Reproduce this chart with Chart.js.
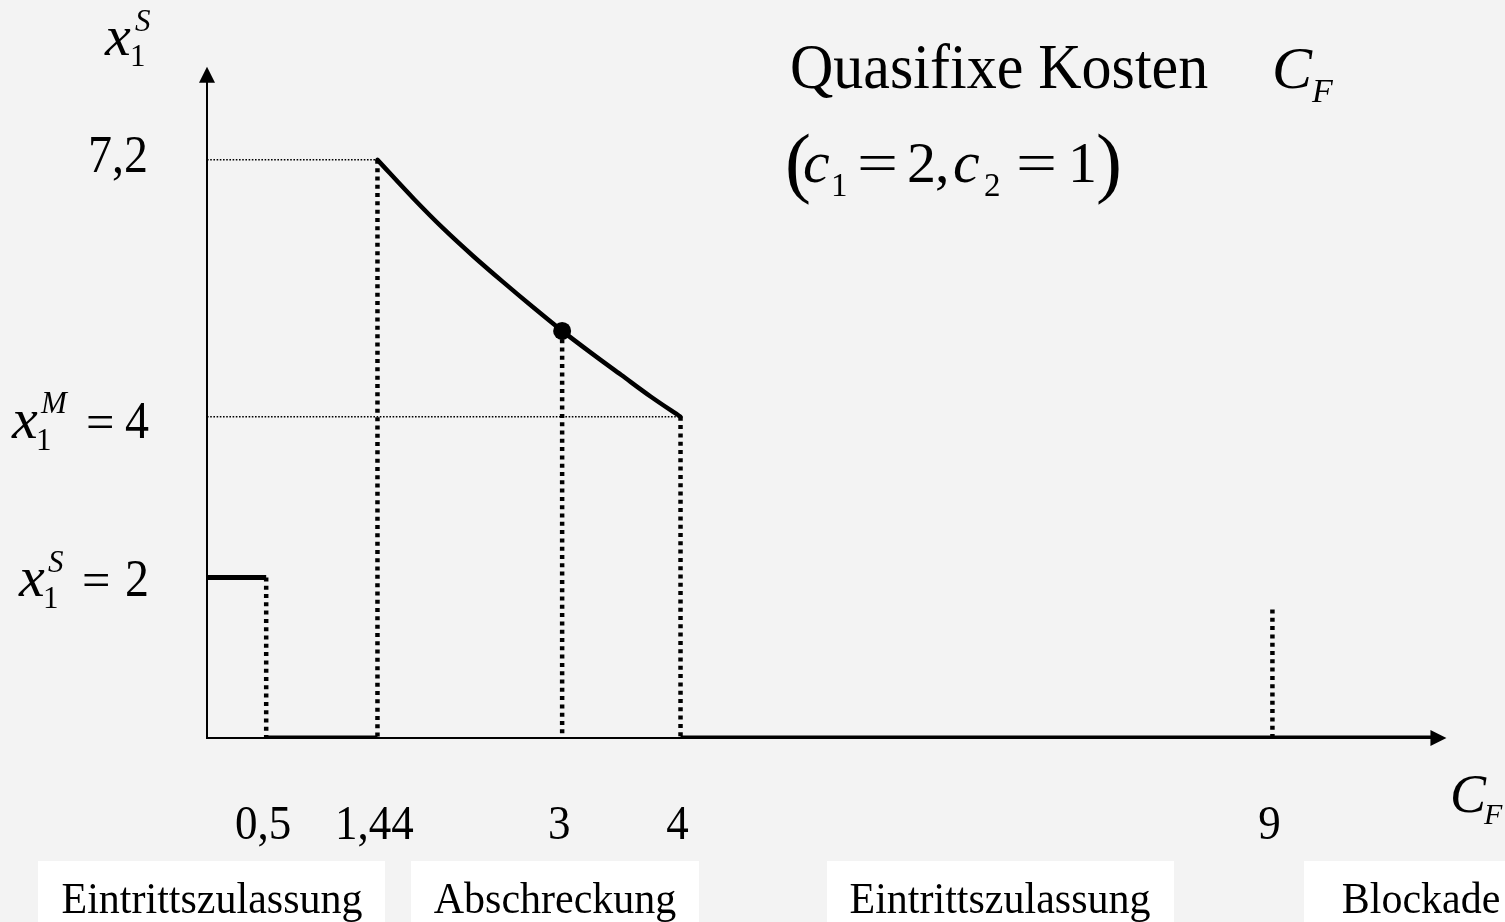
<!DOCTYPE html>
<html>
<head>
<meta charset="utf-8">
<script src="https://cdn.jsdelivr.net/npm/chart.js@4.4.1/dist/chart.umd.min.js"></script>
<style>
  html, body { margin: 0; padding: 0; background: #f3f3f3; }
  #wrap { width: 1505px; height: 922px; }
</style>
</head>
<body>
<div id="wrap"><canvas id="grafica" width="1505" height="922"></canvas></div>
<script>
// Quasifixe Kosten C_F gegen x1^S (c1 = 2, c2 = 1)

// Kurve im Abschreckungsbereich
var cfCurve = [1.44, 1.75, 2, 2.25, 2.5, 2.75, 3, 3.25, 3.5, 3.75, 4];
var x1Curve = [7.2, 6.71, 6.34, 6.0, 5.68, 5.37, 5.07, 4.79, 4.52, 4.25, 4.0];

// Stackelberg-Menge bis C_F = 0,5
var stackCF = [0, 0.5];
var stackX1 = [2, 2];

// Abschnitte mit x1 = 0 (fett auf der Achse)
var zeroFrom = [0.5, 4];
var zeroTo = [1.44, 10.35];

// gepunktete Senkrechte
var dropCF = [0.5, 1.44, 3, 4, 9];
var dropX1 = [2, 7.2, 5.07, 4, 1.6];

// gepunktete Waagerechte zur y-Achse
var guideX1 = [7.2, 4];
var guideCF = [1.44, 4];

// markierter Punkt
var pointCF = [3];
var pointX1 = [5.07];

var xTickValues = [0.5, 1.44, 3, 4, 9];
var xTickLabels = ['0,5', '1,44', '3', '4', '9'];
var regionLabels = ['Eintrittszulassung', 'Abschreckung', 'Eintrittszulassung', 'Blockade'];

var xMax = 10.5;
var yMax = 8.4;
var serif = '"Liberation Serif", "Times New Roman", serif';
var bg = '#f3f3f3';

function seg(x0, y0, x1, y1) {
    return [{ x: x0, y: y0 }, { x: x1, y: y1 }];
}

var datasets = [];

// Punkt
datasets.push({
    data: pointCF.map(function (v, i) { return { x: v, y: pointX1[i] }; }),
    showLine: false, pointRadius: 9, pointBackgroundColor: '#000',
    pointBorderWidth: 0, order: 0
});

// Kurve
datasets.push({
    data: cfCurve.map(function (v, i) { return { x: v, y: x1Curve[i] }; }),
    showLine: true, borderColor: '#000', borderWidth: 4.5, pointRadius: 0,
    cubicInterpolationMode: 'monotone', borderCapStyle: 'round', order: 1
});

datasets.push({
    data: seg(stackCF[0], stackX1[0], stackCF[1], stackX1[1]),
    showLine: true, borderColor: '#000', borderWidth: 5, pointRadius: 0,
    borderCapStyle: 'butt', order: 1
});

for (var i = 0; i < zeroFrom.length; i++) {
    datasets.push({
        data: seg(zeroFrom[i], 0, zeroTo[i], 0),
        showLine: true, borderColor: '#000', borderWidth: 5, pointRadius: 0,
        borderCapStyle: 'butt', order: 1
    });
}

for (var i = 0; i < dropCF.length; i++) {
    datasets.push({
        data: seg(dropCF[i], dropX1[i], dropCF[i], 0),
        showLine: true, borderColor: '#000', borderWidth: 4.5, pointRadius: 0,
        borderDash: [4, 4.3], borderCapStyle: 'butt', order: 2
    });
}

for (var i = 0; i < guideX1.length; i++) {
    datasets.push({
        data: seg(0, guideX1[i], guideCF[i], guideX1[i]),
        showLine: true, borderColor: '#000', borderWidth: 1.5, pointRadius: 0,
        borderDash: [1.6, 1.6], borderCapStyle: 'butt', order: 2
    });
}

// Text in mehreren Teilen (kursiv, hoch-/tiefgestellt); sx/sy strecken
function drawRuns(ctx, x, y, parts) {
    parts.forEach(function (p) {
        ctx.save();
        ctx.font = p.f;
        ctx.translate(x + p.dx, y + p.dy);
        ctx.scale(p.sx || 1, p.sy || 1);
        ctx.fillText(p.t, 0, 0);
        ctx.restore();
    });
}

var diagramPlugin = {
    id: 'diagram',
    beforeDraw: function (chart) {
        var ctx = chart.ctx;
        ctx.save();
        ctx.fillStyle = bg;
        ctx.fillRect(0, 0, chart.width, chart.height);
        ctx.restore();
    },
    beforeDatasetsDraw: function (chart) {
        var ctx = chart.ctx;
        var xs = chart.scales.x, ys = chart.scales.y;
        var x0 = xs.getPixelForValue(0), y0 = ys.getPixelForValue(0);
        var xEnd = xs.getPixelForValue(10.47), yEnd = ys.getPixelForValue(8.36);
        ctx.save();
        ctx.strokeStyle = '#000';
        ctx.fillStyle = '#000';
        ctx.lineWidth = 2;
        ctx.beginPath();
        ctx.moveTo(x0, y0 + 1);
        ctx.lineTo(x0, yEnd + 10);
        ctx.moveTo(x0 - 1, y0);
        ctx.lineTo(xEnd - 10, y0);
        ctx.stroke();
        // Pfeilspitzen
        ctx.beginPath();
        ctx.moveTo(x0, yEnd);
        ctx.lineTo(x0 - 8, yEnd + 16);
        ctx.lineTo(x0 + 8, yEnd + 16);
        ctx.closePath();
        ctx.fill();
        ctx.beginPath();
        ctx.moveTo(xEnd, y0);
        ctx.lineTo(xEnd - 16, y0 - 8);
        ctx.lineTo(xEnd - 16, y0 + 8);
        ctx.closePath();
        ctx.fill();
        ctx.restore();
    },
    afterDraw: function (chart) {
        var ctx = chart.ctx;
        var xs = chart.scales.x, ys = chart.scales.y;
        ctx.save();
        ctx.fillStyle = '#000';
        ctx.textBaseline = 'alphabetic';

        // x-Achsenbeschriftung
        ctx.textAlign = 'center';
        for (var i = 0; i < xTickLabels.length; i++) {
            drawRuns(ctx, xs.getPixelForValue(xTickValues[i]) - 3, 839, [
                { t: xTickLabels[i], f: '45px ' + serif, dx: 0, dy: 0, sy: 1.08 }
            ]);
        }

        ctx.textAlign = 'left';
        var it = 'italic ';
        // C_F an der x-Achse
        drawRuns(ctx, 1450, 812, [
            { t: 'C', f: it + '54px ' + serif, dx: 0, dy: 0 },
            { t: 'F', f: it + '30px ' + serif, dx: 34, dy: 12 }
        ]);

        // y-Achse: x1^S oben
        drawRuns(ctx, 105, 55, [
            { t: 'x', f: it + '58px ' + serif, dx: 0, dy: 0 },
            { t: 'S', f: it + '31px ' + serif, dx: 30, dy: -24 },
            { t: '1', f: '31px ' + serif, dx: 25, dy: 11 }
        ]);

        // 7,2
        ctx.textAlign = 'right';
        drawRuns(ctx, 148, ys.getPixelForValue(7.2) + 12, [
            { t: '7,2', f: '48px ' + serif, dx: 0, dy: 0, sy: 1.12 }
        ]);
        ctx.textAlign = 'left';

        // x1^M = 4
        drawRuns(ctx, 12, ys.getPixelForValue(4) + 21, [
            { t: 'x', f: it + '58px ' + serif, dx: 0, dy: 0 },
            { t: 'M', f: it + '31px ' + serif, dx: 29, dy: -25 },
            { t: '1', f: '31px ' + serif, dx: 24, dy: 12 },
            { t: '=', f: '48px ' + serif, dx: 74, dy: 0, sx: 1.05 },
            { t: '4', f: '48px ' + serif, dx: 113, dy: 0, sy: 1.08 }
        ]);

        // x1^S = 2
        drawRuns(ctx, 19, ys.getPixelForValue(2) + 19, [
            { t: 'x', f: it + '58px ' + serif, dx: 0, dy: 0 },
            { t: 'S', f: it + '31px ' + serif, dx: 29, dy: -24 },
            { t: '1', f: '31px ' + serif, dx: 24, dy: 12 },
            { t: '=', f: '48px ' + serif, dx: 63, dy: 0, sx: 1.05 },
            { t: '2', f: '48px ' + serif, dx: 106, dy: 0, sy: 1.08 }
        ]);

        // Titel
        drawRuns(ctx, 790, 88, [
            { t: 'Quasifixe Kosten', f: '60px ' + serif, dx: 0, dy: 0, sy: 1.05 },
            { t: 'C', f: it + '60px ' + serif, dx: 482, dy: 0 },
            { t: 'F', f: it + '34px ' + serif, dx: 522, dy: 14 }
        ]);

        // (c1 = 2, c2 = 1)
        drawRuns(ctx, 785, 182, [
            { t: '(', f: '78px ' + serif, dx: 0, dy: 6 },
            { t: 'c', f: it + '60px ' + serif, dx: 18, dy: 0 },
            { t: '1', f: '33px ' + serif, dx: 46, dy: 14 },
            { t: '=', f: '56px ' + serif, dx: 72, dy: 0, sx: 1.3 },
            { t: '2', f: '58px ' + serif, dx: 122, dy: 0 },
            { t: ',', f: '58px ' + serif, dx: 150, dy: 0 },
            { t: 'c', f: it + '60px ' + serif, dx: 168, dy: 0 },
            { t: '2', f: '33px ' + serif, dx: 199, dy: 14 },
            { t: '=', f: '56px ' + serif, dx: 231, dy: 0, sx: 1.3 },
            { t: '1', f: '58px ' + serif, dx: 283, dy: 0 },
            { t: ')', f: '78px ' + serif, dx: 311, dy: 6 }
        ]);

        // Bereiche unten
        var boxLeft = [38, 411, 827, 1304];
        var boxRight = [385, 699, 1174, 1538];
        var textMid = [212, 555, 1000, 1421];
        ctx.textAlign = 'center';
        for (var i = 0; i < regionLabels.length; i++) {
            ctx.fillStyle = '#ffffff';
            ctx.fillRect(boxLeft[i], 861, boxRight[i] - boxLeft[i], 61);
            ctx.fillStyle = '#000';
            drawRuns(ctx, textMid[i], 913, [
                { t: regionLabels[i], f: '42px ' + serif, dx: 0, dy: 0, sy: 1.06 }
            ]);
        }
        ctx.restore();
    }
};

var chart = new Chart(document.getElementById('grafica').getContext('2d'), {
    type: 'scatter',
    data: { datasets: datasets },
    options: {
        responsive: false,
        devicePixelRatio: 1,
        animation: false,
        layout: { padding: { left: 207, right: 55, top: 63.5, bottom: 184 } },
        scales: {
            x: { type: 'linear', min: 0, max: xMax, display: false },
            y: { type: 'linear', min: 0, max: yMax, display: false }
        },
        plugins: { legend: { display: false }, tooltip: { enabled: false } },
        elements: { line: { tension: 0 } }
    },
    plugins: [diagramPlugin]
});
</script>
</body>
</html>
